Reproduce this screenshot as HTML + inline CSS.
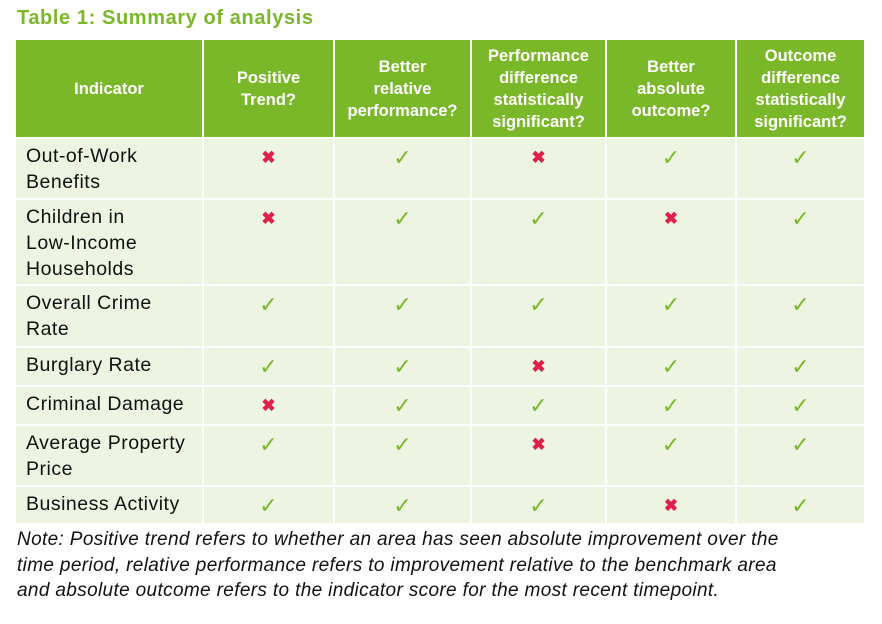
<!DOCTYPE html>
<html><head><meta charset="utf-8"><style>
body{margin:0;width:882px;height:624px;background:#fff;position:relative;overflow:hidden;font-family:"Liberation Sans",sans-serif}
.t{position:absolute;left:17px;top:7px;font-size:20px;font-weight:bold;color:#7ab829;letter-spacing:0.6px}
.c{position:absolute;box-sizing:border-box}
.h{background:#7ab829;color:#fff;font-weight:bold;font-size:16.5px;line-height:22px;display:flex;align-items:center;justify-content:center;text-align:center}
.b{background:#edf5e2}
.lab{font-size:19.5px;line-height:26px;color:#111;padding:4px 0 0 10px;letter-spacing:0.5px;white-space:nowrap}
.m{text-align:center;padding-top:6px}
.ok{color:#7ab829;font-size:22px}
.no{color:#e0204a;font-size:17px;font-weight:bold;display:inline-block;margin-top:3px}
.note{position:absolute;left:17px;top:527px;font-size:19px;line-height:25.5px;font-style:italic;color:#111;white-space:nowrap;letter-spacing:0.35px}
</style></head><body>
<div class="t">Table 1: Summary of analysis</div>
<div id="tbl"></div>
<div class="note">Note: Positive trend refers to whether an area has seen absolute improvement over the<br>time period, relative performance refers to improvement relative to the benchmark area<br>and absolute outcome refers to the indicator score for the most recent timepoint.</div>
<script>
const headers=["Indicator","Positive<br>Trend?","Better<br>relative<br>performance?","Performance<br>difference<br>statistically<br>significant?","Better<br>absolute<br>outcome?","Outcome<br>difference<br>statistically<br>significant?"];
const indicators=["Out-of-Work<br>Benefits","Children in<br>Low-Income<br>Households","Overall Crime<br>Rate","Burglary Rate","Criminal Damage","Average Property<br>Price","Business Activity"];
const results=[[0,1,0,1,1],[0,1,1,0,1],[1,1,1,1,1],[1,1,0,1,1],[0,1,1,1,1],[1,1,0,1,1],[1,1,1,0,1]];
const colX=[16,204,335,472,607,737,866];
const rowY=[40,139,200,286,348,387,426,487,525];
const tbl=document.getElementById('tbl');
function cell(x0,x1,y0,y1,cls,html,name){
 const d=document.createElement('div');
 d.className='c '+cls;
 d.style.left=x0+'px';d.style.top=y0+'px';d.style.width=(x1-x0-2)+'px';d.style.height=(y1-y0-2)+'px';
 d.innerHTML=html;
 
 
 tbl.appendChild(d);
}
headers.forEach((h,i)=>cell(colX[i],colX[i+1],rowY[0],rowY[1],'h',h,'header-cell'));
indicators.forEach((lab,r)=>{
 cell(colX[0],colX[1],rowY[r+1],rowY[r+2],'b lab',lab,'indicator-label');
 results[r].forEach((v,c)=>{
  cell(colX[c+1],colX[c+2],rowY[r+1],rowY[r+2],'b m',v?'<span class="ok">✓</span>':'<span class="no">✖</span>',v?'check-mark':'cross-mark');
 });
});
</script>
</body></html>
